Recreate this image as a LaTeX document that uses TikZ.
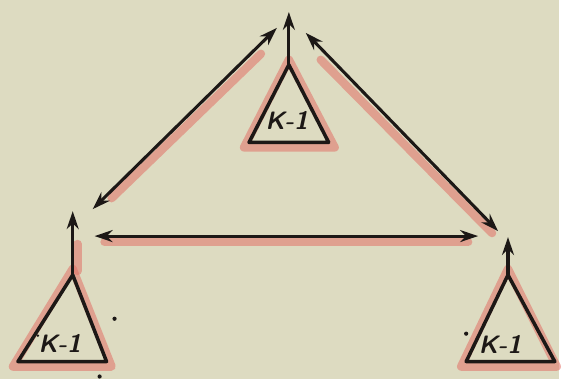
\documentclass[tikz,border=0pt]{standalone}
\usepackage{tikz}
\usetikzlibrary{arrows.meta, calc}
\definecolor{cPaper}{RGB}{221,219,193}
\definecolor{cInk}{RGB}{28,24,22}
\definecolor{cRed}{RGB}{226,112,102}
\tikzset{
	unit/.style ={draw=cInk, line width=2.5pt, line join=round},
	halo/.style ={draw=cRed, line width=6pt, opacity=0.55, line cap=round, line join=round},
	lbl/.style  ={font=\sffamily\bfseries\itshape\fontsize{18}{18}\selectfont, text=cInk, inner sep=0pt},
	outarr/.style={-{Stealth[length=4.5mm, width=3mm]}, draw=cInk, line width=2.2pt},
	link/.style ={{Stealth[length=4.5mm, width=3mm]}-{Stealth[length=4.5mm, width=3mm]}, draw=cInk, line width=2.2pt},
	speck/.style={circle, fill=cInk, inner sep=0pt, minimum size=3pt},
}
\begin{document}
\begin{tikzpicture}[x=0.025cm, y=-0.025cm]
	\fill[cPaper] (0,0) rectangle (561,380);
	% unit corners and outputs
	\coordinate (tA) at (290,65);  \coordinate (tL) at (250,143); \coordinate (tR) at (330,143); \coordinate (tO) at (290,12);
	\coordinate (lA) at (73,276);  \coordinate (lL) at (18,363);  \coordinate (lR) at (107,363); \coordinate (lO) at (73,212);
	\coordinate (rA) at (510,276); \coordinate (rL) at (468,363); \coordinate (rR) at (557,363); \coordinate (rO) at (510,238);
	% link ends
	\coordinate (tl) at (278,28);  \coordinate (tr) at (307,33);
	\coordinate (lt) at (93,210);  \coordinate (lh) at (95,237);
	\coordinate (rt) at (500,232); \coordinate (rh) at (480,237);
	% red shading
	\draw[halo] (245,148) -- (290,60) -- (336,148) -- cycle;
	\draw[halo] (13,368) -- (73,270) -- (112,368) -- cycle;
	\draw[halo] (78,245) -- (78,272);
	\draw[halo] (463,368) -- (510,270) -- (559,368) -- cycle;
	\draw[halo] (112,199) -- (262,54);
	\draw[halo] (322,60) -- (494,234);
	\draw[halo] (105,243) -- (470,243);
	% units
	\draw[unit] (tL) -- (tA) -- (tR) -- cycle;
	\draw[unit] (lL) -- (lA) -- (lR) -- cycle;
	\draw[unit] (rL) -- (rA) -- (rR) -- cycle;
	\node[lbl] (tK) at (288,121) {K-1};
	\node[lbl] (lK) at (60,345) {K-1};
	\node[lbl] (rK) at (502,346) {K-1};
	\draw[outarr] (tA) -- (tO);
	\draw[outarr] (lA) -- (lO);
	\draw[outarr] (rA) -- (rO);
	% links
	\draw[link] (lt) -- (tl);
	\draw[link] (tr) -- (rt);
	\draw[link] (lh) -- (rh);
	% stray dots
	\node[speck] (d1) at (115,320) {};
	\node[speck] (d2) at (100,378) {};
	\node[speck, minimum size=2pt] (d3) at (38,337) {};
	\node[speck] (d4) at (468,335) {};
\end{tikzpicture}
\end{document}
